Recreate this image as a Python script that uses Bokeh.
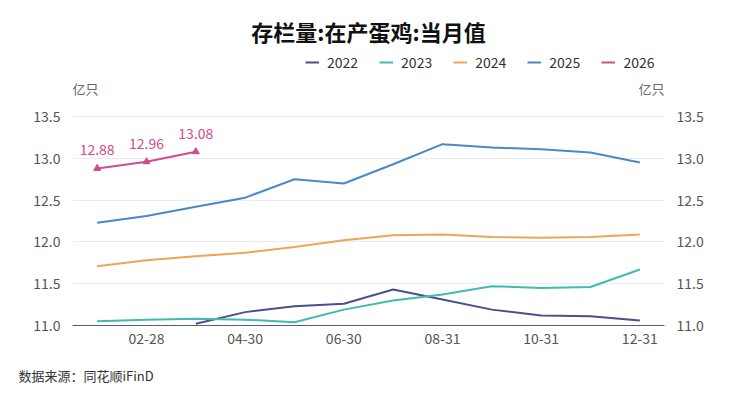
from bokeh.plotting import figure
from bokeh.models import (ColumnDataSource, Range1d, LinearAxis, FixedTicker,
                          Legend, LegendItem, Label, LabelSet, Title)
from bokeh.core.properties import value
from bokeh.embed import file_html
from bokeh.resources import INLINE

# monthly values, 亿只
months = list(range(1, 13))
nan = float("nan")
y2022 = [nan, nan, 11.02, 11.16, 11.23, 11.26, 11.43, 11.31, 11.19, 11.12, 11.11, 11.06]
y2023 = [11.05, 11.07, 11.08, 11.07, 11.04, 11.19, 11.30, 11.37, 11.47, 11.45, 11.46, 11.67]
y2024 = [11.71, 11.78, 11.83, 11.87, 11.94, 12.02, 12.08, 12.09, 12.06, 12.05, 12.06, 12.09]
y2025 = [12.23, 12.31, 12.42, 12.53, 12.75, 12.70, 12.93, 13.17, 13.13, 13.11, 13.07, 12.95]
m2026 = [1, 2, 3]
y2026 = [12.88, 12.96, 13.08]

tick_months = [2, 4, 6, 8, 10, 12]
tick_labels = ["02-28", "04-30", "06-30", "08-31", "10-31", "12-31"]
y_ticks = [11.0, 11.5, 12.0, 12.5, 13.0, 13.5]

series = [("2022", y2022, "#4b4f8c"), ("2023", y2023, "#3fbcae"),
          ("2024", y2024, "#f0a35a"), ("2025", y2025, "#4a89c6")]
c2026 = "#d24b8c"

FONT = "Noto Sans CJK SC"

# frame runs up to the top of the page so title and legend can sit in it;
# grid and ticks stop at 13.5
p = figure(width=730, height=401, output_backend="svg", toolbar_location=None,
           x_range=Range1d(0.5, 12.5), y_range=Range1d(11.0, 14.77),
           min_border_left=72, min_border_right=66, min_border_top=10,
           min_border_bottom=76, y_axis_location=None)
p.outline_line_color = None
p.background_fill_color = "white"
p.border_fill_color = "white"
p.xgrid.visible = False
p.ygrid.ticker = FixedTicker(ticks=y_ticks)
p.ygrid.grid_line_color = "#ececec"
p.ygrid.grid_line_width = 1

# x axis
xa = p.xaxis[0]
xa.ticker = FixedTicker(ticks=tick_months)
xa.major_label_overrides = {m: t for m, t in zip(tick_months, tick_labels)}
xa.axis_line_color = "#5a5e6e"
xa.major_tick_line_color = None
xa.minor_tick_line_color = None
xa.major_tick_out = 0
xa.major_label_text_font = FONT
xa.major_label_text_font_size = "14px"
xa.major_label_text_color = "#555555"
xa.major_label_standoff = 7

# y axes left and right
p.extra_y_ranges = {"r": Range1d(11.0, 14.77)}
for side, rng in (("left", "default"), ("right", "r")):
    ax = LinearAxis(y_range_name=rng, ticker=FixedTicker(ticks=y_ticks))
    ax.axis_line_color = None
    ax.major_tick_line_color = None
    ax.minor_tick_line_color = None
    ax.major_tick_out = 0
    ax.major_label_text_font = FONT
    ax.major_label_text_font_size = "14px"
    ax.major_label_text_color = "#555555"
    ax.major_label_standoff = 12
    ax.major_label_overrides = {v: f"{v:.1f}" for v in y_ticks}
    p.add_layout(ax, side)

items = []
for name, ys, col in series:
    r = p.line(months, ys, line_color=col, line_width=2)
    items.append(LegendItem(label=name, renderers=[r]))

src26 = ColumnDataSource(dict(x=m2026, y=y2026, t=[f"{v:.2f}" for v in y2026]))
r26 = p.line("x", "y", source=src26, line_color=c2026, line_width=2)
p.scatter("x", "y", source=src26, marker="triangle", size=7,
          fill_color=c2026, line_color=c2026)
items.append(LegendItem(label="2026", renderers=[r26]))
p.add_layout(LabelSet(x="x", y="y", text="t", source=src26, y_offset=13,
                      text_align="center", text_baseline="bottom",
                      text_font_size="14px", text_color=c2026,
                      text_font=value(FONT)))

legend = Legend(items=items, orientation="horizontal", location=(233, 253),
                glyph_width=14, glyph_height=12, label_standoff=8, spacing=21,
                padding=0, margin=0, border_line_color=None,
                background_fill_alpha=0, label_text_font=FONT,
                label_text_font_size="14px", label_text_color="#333333")
p.add_layout(legend, "center")

# title and units, screen offsets from the frame's lower left corner
p.add_layout(Label(x=296, y=295, x_units="screen", y_units="screen",
                   text="存栏量:在产蛋鸡:当月值", text_align="center",
                   text_baseline="middle", text_font=FONT,
                   text_font_size="22px", text_font_style="bold",
                   text_color="#111111"))
for xx, al in ((0, "left"), (592, "right")):
    p.add_layout(Label(x=xx, y=237, x_units="screen", y_units="screen",
                       text="亿只", text_align=al, text_baseline="middle",
                       text_font=FONT, text_font_size="13px",
                       text_color="#666666"))

# source note under the x axis
p.add_layout(Title(text="数据来源：同花顺iFinD", align="left", offset=-54,
                   standoff=34, text_font=FONT, text_font_size="13px",
                   text_font_style="normal", text_color="#333333"), "below")

open("out.html", "w").write(file_html(p, INLINE))
